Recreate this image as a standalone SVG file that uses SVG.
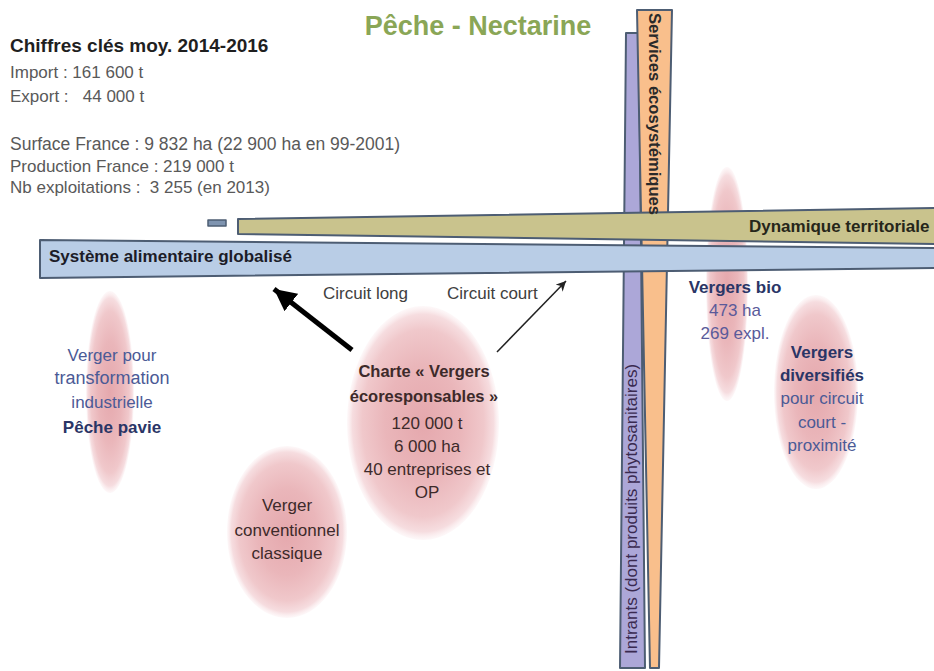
<svg xmlns="http://www.w3.org/2000/svg" width="934" height="671" viewBox="0 0 934 671">
<style>
text { font-family: "Liberation Sans", Arial, sans-serif; font-size: 17px; }
.b { font-weight: bold; }
.m { text-anchor: middle; }
.bar { stroke: #4d5d73; stroke-width: 2; stroke-linejoin: round; }
.kf { fill: #595959; }
.navy { fill: #2a3566; }
.blu { fill: #4b5a96; }
.brn { fill: #3d2a2a; }
</style>
<defs>
<radialGradient id="pink" cx="50%" cy="50%" r="50%">
<stop offset="0" stop-color="#e5a8ad"/>
<stop offset="0.5" stop-color="#eab6ba"/>
<stop offset="0.8" stop-color="#f0c8cb"/>
<stop offset="0.93" stop-color="#f5d9dc" stop-opacity="0.9"/>
<stop offset="1" stop-color="#fbeef0" stop-opacity="0.4"/>
</radialGradient>
<marker id="headThick" markerUnits="userSpaceOnUse" markerWidth="24" markerHeight="22" refX="22" refY="11" orient="auto">
<path d="M0,0 L22,11 L0,22 Z" fill="#000"/>
</marker>
<marker id="headThin" markerUnits="userSpaceOnUse" markerWidth="11" markerHeight="10" refX="10" refY="5" orient="auto">
<path d="M0,0 L10,5 L0,10 L3,5 Z" fill="#222"/>
</marker>
</defs>
<rect width="934" height="671" fill="#fff"/>

<g id="title">
<text x="478" y="35" class="b m" style="font-size:27px" fill="#8aa656">Pêche - Nectarine</text>
</g>

<g id="key-figures">
<text x="10" y="52" class="b" style="font-size:19px" fill="#1f1f1f">Chiffres clés moy. 2014-2016</text>
<text x="10" y="78" class="kf" xml:space="preserve">Import : 161 600 t</text>
<text x="10" y="102" class="kf" xml:space="preserve">Export :   44 000 t</text>
<text x="10" y="150" class="kf" style="font-size:17.5px">Surface France : 9 832 ha (22 900 ha en 99-2001)</text>
<text x="10" y="172" class="kf">Production France : 219 000 t</text>
<text x="10" y="193" class="kf" xml:space="preserve">Nb exploitations :  3 255 (en 2013)</text>
</g>

<g id="node-industrielle">
<ellipse cx="110" cy="392" rx="24" ry="101" fill="url(#pink)"/>
<text x="112" y="361" class="m blu">Verger pour</text>
<text x="112" y="384" class="m blu" style="font-size:18px">transformation</text>
<text x="112" y="408" class="m blu">industrielle</text>
<text x="112" y="433" class="m b navy">Pêche pavie</text>
</g>

<g id="node-conventionnel">
<ellipse cx="287" cy="532" rx="60" ry="86" fill="url(#pink)"/>
<text x="287" y="511" class="m brn">Verger</text>
<text x="287" y="536" class="m brn">conventionnel</text>
<text x="287" y="559" class="m brn">classique</text>
</g>

<g id="node-charte">
<ellipse cx="423" cy="423" rx="76" ry="117" fill="url(#pink)"/>
<text x="424" y="377" class="m b brn" style="font-size:16.5px">Charte « Vergers</text>
<text x="424" y="402" class="m b brn" style="font-size:16.5px">écoresponsables »</text>
<text x="427" y="429" class="m brn">120 000 t</text>
<text x="427" y="452" class="m brn">6 000 ha</text>
<text x="427" y="475" class="m brn">40 entreprises et</text>
<text x="427" y="498" class="m brn">OP</text>
</g>

<g id="node-bio">
<ellipse cx="727" cy="284" rx="21" ry="117" fill="url(#pink)"/>
</g>

<g id="node-diversifies">
<ellipse cx="816" cy="392" rx="42" ry="97" fill="url(#pink)"/>
<text x="822" y="358" class="m b navy">Vergers</text>
<text x="822" y="381" class="m b navy">diversifiés</text>
<text x="822" y="404" class="m blu">pour circuit</text>
<text x="822" y="428" class="m blu">court -</text>
<text x="822" y="451" class="m blu">proximité</text>
</g>

<g id="bar-intrants">
<polygon class="bar" points="626,33 639,33 645,668 620,668" fill="#aca7d8"/>
</g>
<g id="bar-services">
<polygon class="bar" points="637,10 672,10 659,668 650,668" fill="#f9bf8c"/>
</g>
<g id="bar-dynamique">
<rect x="208" y="220" width="18" height="6" class="bar" fill="#7f94b0" style="stroke-width:1.5"/>
<polygon class="bar" points="238,219 940,208 940,244 238,234" fill="#c9c38d"/>
<text x="749" y="232" class="b" fill="#26261a">Dynamique territoriale</text>
</g>
<g id="bar-systeme">
<polygon class="bar" points="40,240 940,248 940,268 40,278" fill="#b9cde6"/>
<text x="49" y="262" class="b" fill="#1c1c28">Système alimentaire globalisé</text>
</g>

<g id="bar-labels">
<text transform="translate(649,13) rotate(90)" class="b" style="font-size:16.6px" fill="#2a2a2a">Services écosystémiques</text>
<text transform="translate(637,654) rotate(-90)" fill="#3a2a50">Intrants (dont produits phytosanitaires)</text>
</g>

<g id="node-bio-label">
<text x="735" y="293" class="m b navy">Vergers bio</text>
<text x="735" y="316" class="m" fill="#5a5a9a">473 ha</text>
<text x="735" y="339" class="m" fill="#5a5a9a">269 expl.</text>
</g>

<g id="connectors">
<line x1="352" y1="350" x2="274" y2="289" stroke="#000" stroke-width="5" marker-end="url(#headThick)"/>
<line x1="497" y1="352" x2="566" y2="281" stroke="#222" stroke-width="1.5" marker-end="url(#headThin)"/>
<text x="323" y="299" fill="#404040">Circuit long</text>
<text x="447" y="299" fill="#404040">Circuit court</text>
</g>
</svg>
